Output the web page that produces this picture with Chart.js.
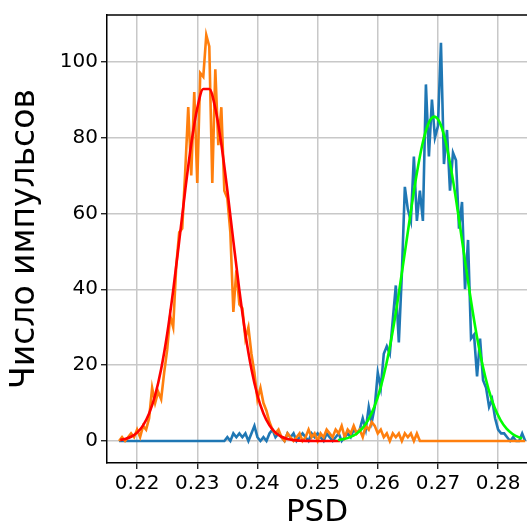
<!DOCTYPE html>
<html>
<head>
<meta charset="utf-8">
<script src="https://cdn.jsdelivr.net/npm/chart.js@4"></script>
<style>
  html, body { margin: 0; padding: 0; background: #fff; }
</style>
</head>
<body>
<canvas id="psd-chart" width="527" height="532"></canvas>
<script>
// Гистограммы PSD: бины по 0.0005 начиная с 0.2170
var binStart = 0.2170;
var binStep = 0.0005;

// оранжевая гистограмма (левый пик)
var orangeCounts = [
  0, 1, 0, 1, 2, 1, 3, 1, 4, 3,
  6, 14, 10, 13, 11, 18, 24, 33, 30, 46,
  55, 56, 71, 88, 70, 92, 68, 97, 96, 107,
  104, 68, 98, 78, 88, 66, 64, 55, 34, 45,
  36, 35, 27, 30, 23, 18, 11, 14, 10, 8,
  5, 3, 2, 3, 1, 0, 2, 1, 0, 1,
  2, 0, 1, 3, 1, 2, 0, 2, 1, 3,
  2, 1, 3, 2, 4, 1, 3, 2, 4, 2,
  3, 1, 4, 3, 5, 4, 2, 3, 1, 2,
  0, 2, 1, 2, 0, 2, 1, 2, 0, 2,
  0, 0, 0, 0, 0, 0, 0, 0, 0, 0,
  0, 0, 0, 0, 0, 0, 0, 0, 0, 0,
  0, 0, 0, 0, 0, 0, 0, 0, 0, 0,
  0, 0, 0, 0, 0, 0
];

// синяя гистограмма (правый пик)
var blueCounts = [
  0, 0, 0, 0, 0, 0, 0, 0, 0, 0,
  0, 0, 0, 0, 0, 0, 0, 0, 0, 0,
  0, 0, 0, 0, 0, 0, 0, 0, 0, 0,
  0, 0, 0, 0, 0, 0, 1, 0, 2, 1,
  2, 1, 2, 0, 2, 4, 1, 0, 1, 0,
  2, 3, 1, 2, 1, 0, 2, 1, 2, 0,
  1, 2, 1, 0, 2, 1, 2, 1, 0, 2,
  1, 0, 1, 2, 0, 1, 2, 1, 3, 2,
  3, 6, 3, 9, 5, 9, 18, 14, 23, 25,
  23, 32, 41, 26, 44, 67, 61, 58, 75, 58,
  66, 58, 94, 75, 90, 80, 83, 105, 73, 82,
  66, 76, 74, 56, 63, 40, 53, 27, 28, 17,
  27, 16, 14, 9, 11, 6, 3, 2, 2, 1,
  0, 1, 0, 0, 2, 0
];

// аппроксимация гауссом (красная)
var redFitX = [0.2172, 0.2180, 0.2190, 0.2200, 0.2210, 0.2220, 0.2230, 0.2240, 0.2250, 0.2260,
  0.2270, 0.2280, 0.2290, 0.2300, 0.2310, 0.2320, 0.2330, 0.2340, 0.2350, 0.2360,
  0.2370, 0.2380, 0.2390, 0.2400, 0.2410, 0.2420, 0.2430, 0.2440, 0.2450, 0.2460,
  0.2470, 0.2480, 0.2490, 0.2500, 0.2510, 0.2520, 0.2530, 0.2537];
var redFitY = [0.28, 0.53, 1.12, 2.20, 4.11, 7.24, 12.06, 18.98, 28.2, 39.7,
  52.7, 66.1, 78.3, 87.7, 92.8, 92.8, 87.7, 78.3, 66.1, 52.7,
  39.7, 28.2, 18.98, 12.06, 7.24, 4.11, 2.20, 1.12, 0.53, 0.24,
  0.10, 0.04, 0.02, 0.01, 0, 0, 0, 0];

// аппроксимация гауссом (зелёная)
var greenFitX = [0.2534, 0.2544, 0.2554, 0.2564, 0.2574, 0.2584, 0.2594, 0.2604, 0.2614, 0.2624,
  0.2634, 0.2644, 0.2654, 0.2664, 0.2674, 0.2684, 0.2694, 0.2704, 0.2714, 0.2724,
  0.2734, 0.2744, 0.2754, 0.2764, 0.2774, 0.2784, 0.2794, 0.2804, 0.2814, 0.2824,
  0.2834, 0.2840];
var greenFitY = [0.26, 0.52, 1.01, 1.86, 3.28, 5.52, 8.89, 13.7, 20.1, 28.2,
  37.9, 48.6, 59.5, 69.7, 78.1, 83.6, 85.5, 83.6, 78.1, 69.7,
  59.5, 48.6, 37.9, 28.2, 20.1, 13.7, 8.89, 5.52, 3.28, 1.86,
  1.01, 0.69];

var yTicks = [0, 20, 40, 60, 80, 100];

function histPoints(counts) {
  return counts.map(function (c, i) { return { x: binStart + i * binStep, y: c }; });
}
function fitPoints(xs, ys) {
  return xs.map(function (x, i) { return { x: x, y: ys[i] }; });
}

var fontFamily = "'DejaVu Sans', sans-serif";

// верхняя рамка
var topSpine = {
  id: 'topSpine',
  afterDraw: function (chart) {
    var a = chart.chartArea, ctx = chart.ctx;
    ctx.save();
    ctx.strokeStyle = '#000';
    ctx.lineWidth = 1.5;
    ctx.beginPath();
    ctx.moveTo(a.left, a.top);
    ctx.lineTo(a.right, a.top);
    ctx.stroke();
    ctx.restore();
  }
};

var ctx = document.getElementById('psd-chart').getContext('2d');
var psdChart = new Chart(ctx, {
  type: 'line',
  data: {
    datasets: [
      { data: fitPoints(greenFitX, greenFitY), borderColor: '#00ff00', borderWidth: 2.6,
        pointRadius: 0, cubicInterpolationMode: 'monotone', order: 0 },
      { data: fitPoints(redFitX, redFitY), borderColor: '#ff0000', borderWidth: 2.6,
        pointRadius: 0, cubicInterpolationMode: 'monotone', order: 1 },
      { data: histPoints(orangeCounts), borderColor: '#ff7f0e', borderWidth: 2.6,
        pointRadius: 0, tension: 0, order: 2 },
      { data: histPoints(blueCounts), borderColor: '#1f77b4', borderWidth: 2.6,
        pointRadius: 0, tension: 0, order: 3 }
    ]
  },
  options: {
    responsive: false,
    animation: false,
    layout: { padding: { top: 12, left: 0, right: 0, bottom: 0 } },
    plugins: {
      legend: { display: false },
      tooltip: { enabled: false }
    },
    scales: {
      x: {
        type: 'linear',
        min: 0.2150,
        max: 0.2848,
        ticks: {
          stepSize: 0.01,
          includeBounds: false,
          maxRotation: 0,
          padding: 3,
          color: '#000',
          font: { family: fontFamily, size: 20 },
          callback: function (v) { return v.toFixed(2); }
        },
        grid: { color: '#c8c8c8', lineWidth: 1.5, tickColor: '#000', tickLength: 6, tickWidth: 1.2 },
        border: { color: '#000', width: 1.5 },
        title: { display: true, text: 'PSD', color: '#000',
          font: { family: fontFamily, size: 31 }, padding: { top: 0, bottom: 0 } },
        afterFit: function (s) { s.height = 69; }
      },
      y: {
        min: -5.8,
        max: 112.3,
        afterBuildTicks: function (s) { s.ticks = yTicks.map(function (v) { return { value: v }; }); },
        ticks: {
          padding: 3,
          color: '#000',
          font: { family: fontFamily, size: 20 }
        },
        grid: { color: '#c8c8c8', lineWidth: 1.5, tickColor: '#000', tickLength: 6, tickWidth: 1.2 },
        border: { color: '#000', width: 1.5 },
        title: { display: true, text: 'Число импульсов', color: '#000',
          font: { family: fontFamily, size: 33 }, padding: { top: 6, bottom: 0 } },
        afterFit: function (s) { s.width = 107; }
      }
    }
  },
  plugins: [topSpine]
});
</script>
</body>
</html>
